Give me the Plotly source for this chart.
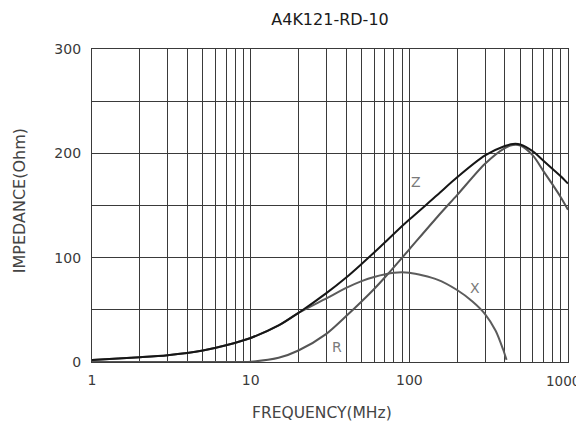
import math
import plotly.graph_objects as go

# Frequencies (MHz) and impedance values (Ohm)
freq = [1, 2, 3, 5, 7, 10, 15, 20, 30, 40, 50, 60, 70, 80, 100, 150, 200, 300, 400, 450, 500, 600, 700, 800, 900, 1000]
z_vals = [2, 4.5, 6.5, 11, 16, 23, 35, 47, 66, 81, 94, 105, 114.5, 123, 136.5, 160, 177, 198, 207, 209, 208.5, 202, 193, 185, 178, 171]
r_vals = [0, 0, 0, 0, 0, 0.3, 4, 11, 27, 44, 58, 70, 81, 91, 108, 139, 160, 190, 205, 208, 207.5, 198, 183, 170, 158, 146]
x_freq = [1, 2, 3, 5, 7, 10, 15, 20, 30, 40, 50, 60, 80, 100, 150, 200, 250, 300, 350, 390, 410]
x_vals = [2, 4.5, 6.5, 11, 16, 23, 35, 47, 61, 71, 77.5, 81.5, 85.5, 85.5, 79, 69, 58, 46, 30, 12, 2]

curve_labels = ["Z", "X", "R"]
label_freq = [110, 261, 35]
label_val = [173, 71, 14]

x_tickvals = [m * 10 ** k for k in range(3) for m in range(1, 10)] + [1000]
x_ticktext = [str(v) if v in (1, 10, 100) else "" for v in x_tickvals]
last_x_label = "1000"
y_tickvals = [0, 50, 100, 150, 200, 250, 300]
y_ticktext = ["0", "", "100", "", "200", "", "300"]

FONT = "DejaVu Sans, Verdana, Arial"
GRID = "#3a3a3a"

fig = go.Figure()
fig.add_trace(go.Scatter(x=freq, y=r_vals, mode="lines",
                         line=dict(color="#555555", width=2, shape="spline", smoothing=0.8), name="R"))
fig.add_trace(go.Scatter(x=x_freq, y=x_vals, mode="lines",
                         line=dict(color="#5c5c5c", width=2, shape="spline", smoothing=0.8), name="X"))
fig.add_trace(go.Scatter(x=freq, y=z_vals, mode="lines",
                         line=dict(color="#161616", width=2, shape="spline", smoothing=0.8), name="Z"))

for txt, fx, fy in zip(curve_labels, label_freq, label_val):
    fig.add_annotation(x=math.log10(fx), y=fy, text=txt, showarrow=False,
                       font=dict(family=FONT, size=14, color="#7a7a7a"))

# last x tick label kept inside the page, flush right as in the reference
fig.add_annotation(xref="paper", yref="paper", x=1, y=-0.0607, text=last_x_label,
                   showarrow=False, xanchor="right", yanchor="middle", xshift=14,
                   font=dict(family=FONT, size=13.5, color="#3a3a3a"))

# axis titles as annotations for exact placement
fig.add_annotation(xref="paper", yref="paper", x=0.483, y=-0.163, text="FREQUENCY(MHz)",
                   showarrow=False, xanchor="center", yanchor="middle",
                   font=dict(family=FONT, size=15.5, color="#444"))
fig.add_annotation(xref="paper", yref="paper", x=-0.153, y=0.514, text="IMPEDANCE(Ohm)",
                   showarrow=False, xanchor="center", yanchor="middle", textangle=-90,
                   font=dict(family=FONT, size=16, color="#444"))

fig.update_layout(
    width=576, height=420,
    margin=dict(l=84, r=16, t=41, b=66),
    paper_bgcolor="white", plot_bgcolor="white",
    showlegend=False,
    title=dict(text="A4K121-RD-10", x=0.5, xref="paper", xanchor="center",
               y=0.974, yref="container", yanchor="middle",
               font=dict(family=FONT, size=16, color="#1a1a1a")),
    font=dict(family=FONT, size=14, color="#3a3a3a"),
)
fig.update_xaxes(type="log", range=[0, 3], tickvals=x_tickvals, ticktext=x_ticktext,
                 showgrid=True, gridcolor=GRID, gridwidth=1.2, showline=True, linecolor=GRID,
                 linewidth=1.2, mirror=True, ticks="", zeroline=False, automargin=False,
                 ticklabelstandoff=5)
fig.update_yaxes(range=[0, 300], tickvals=y_tickvals, ticktext=y_ticktext,
                 showgrid=True, gridcolor=GRID, gridwidth=1.2, showline=True, linecolor=GRID,
                 linewidth=1.2, mirror=True, ticks="", zeroline=False, automargin=False,
                 ticklabelstandoff=7)

fig.write_html("out.html")
